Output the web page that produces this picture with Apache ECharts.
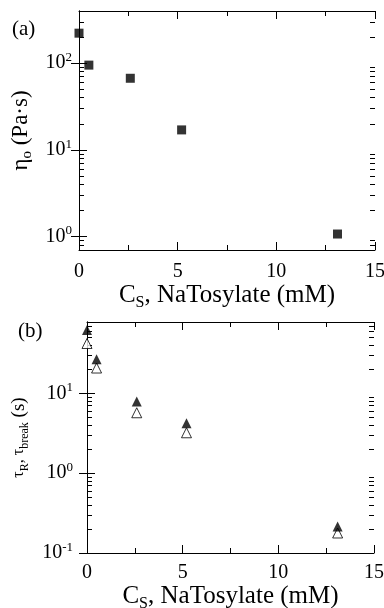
<!DOCTYPE html>
<html>
<head>
<meta charset="utf-8">
<script src="https://cdn.jsdelivr.net/npm/echarts@6/dist/echarts.min.js"></script>
<style>
html,body{margin:0;padding:0;background:#fff;}
#chart{width:384px;height:608px;}
</style>
</head>
<body>
<div id="chart"></div>
<script>
// ---- data ----
var concentration = [0, 0.5, 2.6, 5.2, 13.1];          // C_S, NaTosylate (mM)
var eta0 = [222, 95, 67, 17, 1.07];                     // η_o (Pa·s)
var tauFilled = [62, 26.6, 7.9, 4.2, 0.215];            // filled triangles
var tauOpen = [42, 20.7, 5.7, 3.2, 0.178];              // open triangles
var xTicks = [0, 5, 10, 15];
var majorTicksA = [1, 10, 100];
var majorTicksB = [0.1, 1, 10];
var minorTicksA = [0.8, 0.9, 2, 3, 4, 5, 6, 7, 8, 9, 20, 30, 40, 50, 60, 70, 80, 90, 200, 300];
var minorTicksB = [0.2, 0.3, 0.4, 0.5, 0.6, 0.7, 0.8, 0.9, 2, 3, 4, 5, 6, 7, 8, 9, 20, 30, 40, 50, 60, 70];

var FONT = '"Liberation Serif", "Times New Roman", serif';
var XMIN = 0, XMAX = 15;

function pairs(xs, ys) { return xs.map(function (x, i) { return [x, ys[i]]; }); }

function powLabel(v) {
  var l = Math.log10(v);
  var r = Math.round(l);
  if (Math.abs(l - r) > 1e-6) return '';
  return '{b|10}{s|' + (r < 0 ? '-' + (-r) : r) + '}';
}

var powRich = {
  b: { fontSize: 20, fontFamily: FONT, color: '#000', lineHeight: 24 },
  s: { fontSize: 13, fontFamily: FONT, color: '#000', verticalAlign: 'top' }
};
var titleRich = {
  a: { fontSize: 25, fontFamily: FONT, color: '#000', lineHeight: 30 },
  sub: { fontSize: 16, fontFamily: FONT, color: '#000', verticalAlign: 'bottom' }
};
var etaRich = {
  a: { fontSize: 23, fontFamily: FONT, color: '#000', lineHeight: 28 },
  sub: { fontSize: 15, fontFamily: FONT, color: '#000', verticalAlign: 'bottom' }
};
var tauRich = {
  a: { fontSize: 16, fontFamily: FONT, color: '#000', lineHeight: 24 },
  p: { fontSize: 19, fontFamily: FONT, color: '#000', lineHeight: 24 },
  sub: { fontSize: 12, fontFamily: FONT, color: '#000', verticalAlign: 'bottom' }
};

function xAxisDef(grid, pos, showLabel, margin, name, gap) {
  return {
    type: 'value', gridIndex: grid, position: pos, min: XMIN, max: XMAX, interval: 5,
    axisLine: { show: true, lineStyle: { color: '#000', width: 1 } },
    axisTick: { show: true, inside: true, length: 8, lineStyle: { color: '#000' } },
    minorTick: { show: true, splitNumber: 2, length: 5, lineStyle: { color: '#000' } },
    splitLine: { show: false },
    axisLabel: { show: showLabel, margin: margin, fontSize: 20, fontFamily: FONT, color: '#000',
      formatter: function (v) { return xTicks.indexOf(v) >= 0 ? String(v) : ''; } },
    name: name || '', nameLocation: 'middle', nameGap: gap || 0,
    nameTextStyle: { rich: titleRich }
  };
}

// main log axis (line + decade ticks + labels)
function yAxisDef(grid, pos, showLabel, min, max, majors, margin, name, gap, richA) {
  return {
    type: 'log', logBase: 10, gridIndex: grid, position: pos, min: min, max: max, offset: 0,
    axisLine: { show: true, lineStyle: { color: '#000', width: 1 } },
    axisTick: { show: true, inside: true, length: 8, customValues: majors, lineStyle: { color: '#000' } },
    splitLine: { show: false },
    axisLabel: { show: showLabel, margin: margin, customValues: majors, formatter: powLabel, rich: powRich, hideOverlap: false },
    name: name || '', nameLocation: 'middle', nameGap: gap || 0, nameRotate: 90,
    nameTextStyle: { rich: richA || {} }
  };
}

// companion log axis carrying only the minor (2..9) ticks
function yMinorDef(grid, pos, min, max, minors) {
  return {
    type: 'log', logBase: 10, gridIndex: grid, position: pos, min: min, max: max, offset: 0,
    axisLine: { show: false },
    axisTick: { show: true, inside: true, length: 5, customValues: minors, lineStyle: { color: '#000' } },
    axisLabel: { show: false },
    splitLine: { show: false }
  };
}

var chart = echarts.init(document.getElementById('chart'), null, { renderer: 'canvas' });
chart.setOption({
  animation: false,
  backgroundColor: '#fff',
  grid: [
    { left: 79, top: 11, width: 296, height: 239, containLabel: false, outerBoundsMode: 'none' },
    { left: 87, top: 322, width: 287, height: 231, containLabel: false, outerBoundsMode: 'none' }
  ],
  xAxis: [
    xAxisDef(0, 'bottom', true, 12, '{a|C}{sub|S}{a|, NaTosylate (mM)}', 22),
    xAxisDef(0, 'top', false, 0),
    xAxisDef(1, 'bottom', true, 10, '{a|C}{sub|S}{a|, NaTosylate (mM)}', 16),
    xAxisDef(1, 'top', false, 0)
  ],
  yAxis: [
    yAxisDef(0, 'left', true, 0.7, 400, majorTicksA, 7, '{a|η}{sub|o}{a| (Pa·s)}', 41, etaRich),
    yAxisDef(0, 'right', false, 0.7, 400, majorTicksA, 0),
    yMinorDef(0, 'left', 0.7, 400, minorTicksA),
    yMinorDef(0, 'right', 0.7, 400, minorTicksA),
    yAxisDef(1, 'left', true, 0.1, 78, majorTicksB, 14, '{a|τ}{sub|R}{a|, τ}{sub|break}{p| (s)}', 49, tauRich),
    yAxisDef(1, 'right', false, 0.1, 78, majorTicksB, 0),
    yMinorDef(1, 'left', 0.1, 78, minorTicksB),
    yMinorDef(1, 'right', 0.1, 78, minorTicksB)
  ],
  graphic: [
    { type: 'text', left: 12, top: 19, style: { text: '(a)', font: '21px ' + FONT, fill: '#000' } },
    { type: 'text', left: 18, top: 321, style: { text: '(b)', font: '21px ' + FONT, fill: '#000' } }
  ],
  series: [
    {
      name: 'η_o', type: 'scatter', xAxisIndex: 0, yAxisIndex: 0, clip: false,
      symbol: 'rect', symbolSize: 9, itemStyle: { color: '#000' },
      data: pairs(concentration, eta0), z: 3
    },
    {
      name: 'τ_break', type: 'scatter', xAxisIndex: 2, yAxisIndex: 4, clip: false,
      symbol: 'triangle', symbolSize: 10,
      itemStyle: { color: '#fff', borderColor: '#000', borderWidth: 1 },
      data: pairs(concentration, tauOpen), z: 3
    },
    {
      name: 'τ_R', type: 'scatter', xAxisIndex: 2, yAxisIndex: 4, clip: false,
      symbol: 'triangle', symbolSize: 10, itemStyle: { color: '#000' },
      data: pairs(concentration, tauFilled), z: 4
    }
  ]
});
</script>
</body>
</html>
